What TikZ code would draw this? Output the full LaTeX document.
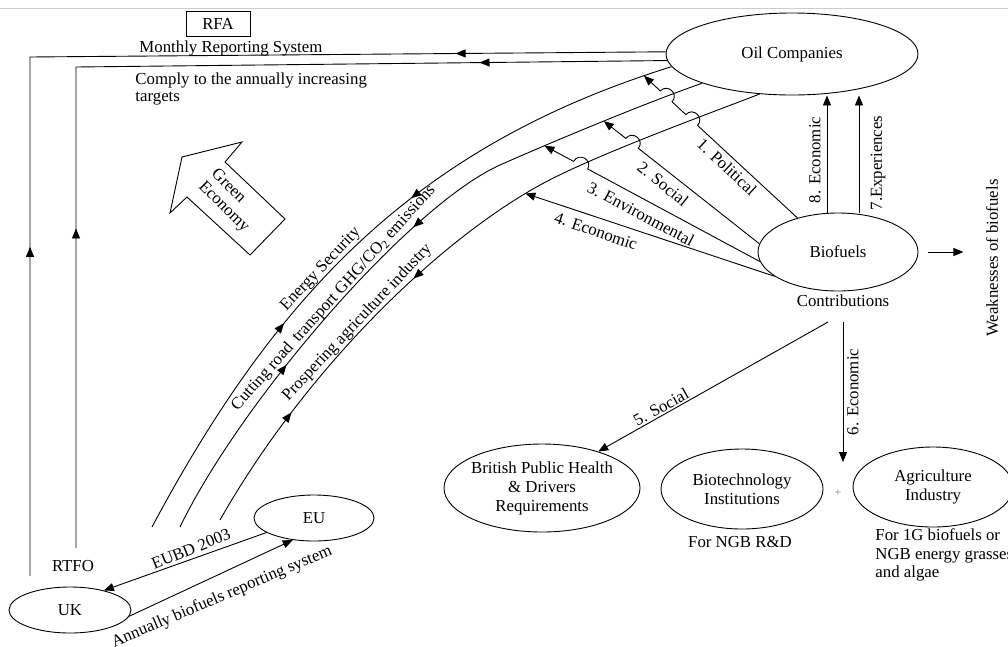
\documentclass[tikz,border=0pt]{standalone}
\usepackage{fontspec}
\setmainfont{Liberation Serif}
\usetikzlibrary{arrows.meta,calc,intersections,decorations.markings,shapes.geometric}
\begin{document}
\begin{tikzpicture}[x=1pt,y=1pt,
  >={Triangle[length=10pt,width=8pt]},
  font=\fontsize{16.8}{19}\selectfont,
  line width=0.9pt,
  oval/.style={draw, ellipse, inner sep=0pt, align=center},
  lbl/.style={inner sep=0pt},
  bump/.style={bend right=90, looseness=1.7},
  twoway/.style 2 args={postaction={decorate},decoration={markings,
     mark=at position #1 with {\arrow{>}},
     mark=at position #2 with {\arrowreversed{>}}}},
]
\clip (0,0) rectangle (1008,-646);
\fill[white] (0,0) rectangle (1008,-646);
\draw[gray!40, line width=0.8pt] (0,-8) -- (1008,-8);

% ---------- main actors ----------
\node[oval, minimum width=252, minimum height=82] (oil) at (792,-54) {Oil Companies};
\node[oval, minimum width=160, minimum height=78] (bio) at (838,-252) {Biofuels};
\node[oval, minimum width=122, minimum height=46] (uk) at (70,-610) {UK};
\node[oval, minimum width=120, minimum height=46] (eu) at (314,-518) {EU};
\node[oval, minimum width=196, minimum height=88] (brit) at (542,-488) {};
\node[lbl, align=center] (britT) at (brit.center) {British Public Health\\\& Drivers\\Requirements};
\node[oval, minimum width=162, minimum height=80] (biot) at (742,-489) {Biotechnology\\Institutions};
\node[oval, minimum width=160, minimum height=80] (agri) at (933,-487) {Agriculture\\Industry};
\node[draw, minimum width=64, minimum height=25, inner sep=0pt] (rfa) at (218,-23.5) {RFA};

% ---------- free texts ----------
\node[lbl, anchor=base west] (mrs) at (139,-52) {Monthly Reporting System};
\node[lbl, anchor=north west, align=left, font=\fontsize{16.8}{17}\selectfont] (comply) at (135,-72.5)
  {Comply to the annually increasing\\targets};
\node[lbl] (rtfo) at (73,-566) {RTFO};
\node[lbl] (contrib) at (843,-301) {Contributions};
\node[lbl, rotate=90] (weak) at (992,-258) {Weaknesses of biofuels};
\node[lbl] (ngb) at (740,-541.5) {For NGB R\&D};
\node[lbl, anchor=north west, align=left, font=\fontsize{16.8}{18.5}\selectfont] (agritxt) at (875,-528.5)
  {For 1G biofuels or\\NGB energy grasses\\and algae};
\node[lbl, text=gray, font=\fontsize{12}{12}\selectfont] (plus) at (838,-493) {+};

% ---------- reporting lines to the UK side ----------
\coordinate (v1b) at (30,-576);
\coordinate (v1t) at (30,-57);
\coordinate (v2b) at (76,-548);
\coordinate (v2t) at (76,-67);
\draw[twoway={0.285}{0.818}] (v1b) -- (v1t) -- (oil.179);
\draw[twoway={0.298}{0.825}] (v2b) -- (v2t) -- (oil.183);

% ---------- UK / EU ----------
\draw[->] (eu.197) -- (uk.30);
\draw[->] (uk.-6) -- (eu.226);
\node[lbl, rotate=22] (eubd) at (191,-549) {EUBD 2003};
\node[lbl, rotate=23] (annual) at (222,-597) {Annually biofuels reporting system};

% ---------- three benefit arcs ----------
\coordinate (aA) at (152,-527);
\coordinate (aB) at (180,-527);
\coordinate (aC) at (220,-520);
\draw[name path=arcA, postaction={decorate}, decoration={markings,
   mark=at position 0.34 with {\arrow{>}},
   mark=at position 0.43 with {\node[lbl, transform shape, anchor=base, yshift=4pt] (es) {Energy Security};},
   mark=at position 0.59 with {\arrowreversed{>}}}]
  (aA) .. controls (279,-289) and (420,-145) .. (oil.186);
\draw[name path=arcB, postaction={decorate}, decoration={markings,
   mark=at position 0.275 with {\arrow{>}},
   mark=at position 0.39 with {\node[lbl, transform shape, anchor=base, yshift=3pt] (cut) {Cutting road\, transport GHG/CO\textsubscript{2} emissions};},
   mark=at position 0.54 with {\arrowreversed{>}}}]
  (aB) .. controls (241,-401) and (409,-206) .. (500,-165)
       .. controls (545,-145) and (640,-105) .. (oil.198);
\draw[name path=arcC, postaction={decorate}, decoration={markings,
   mark=at position 0.183 with {\arrow{>}},
   mark=at position 0.34 with {\node[lbl, transform shape, anchor=base, yshift=4pt] (pros) {Prospering agriculture industry};},
   mark=at position 0.44 with {\arrowreversed{>}}}]
  (aC) .. controls (304,-372) and (435,-243) .. (540,-185)
       .. controls (593,-156) and (700,-117) .. (oil.231);

% ---------- Green Economy block arrow ----------
\draw (182,-157) -- (242,-142) -- (225,-162) -- (285,-219) -- (250,-255)
  -- (187,-197) -- (170,-213) -- cycle;
\node[lbl, rotate=-45, align=left, font=\fontsize{16.8}{18}\selectfont] (green) at (230,-201) {Green\\Economy};

% ---------- biofuels contributions to oil companies ----------
\coordinate (tPol) at (641,-73);
\coordinate (tSoc) at (605,-122);
\coordinate (tEnv) at (545,-146);
\coordinate (tEco) at (530,-195);
\path[name path=lPol] (bio.140) -- ($(bio.140)!1.3!(tPol)$);
\path[name path=lSoc] (bio.174) -- ($(bio.174)!1.3!(tSoc)$);
\path[name path=lEnv] (bio.187) -- ($(bio.187)!1.3!(tEnv)$);
\path[name path=lEco] (bio.201) -- ($(bio.201)!1.3!(tEco)$);
\path[name intersections={of=lPol and arcA, by=xPolA}];
\path[name intersections={of=lPol and arcB, by=xPolB}];
\path[name intersections={of=lPol and arcC, by=xPolC}];
\path[name intersections={of=lSoc and arcB, by=xSocB}];
\path[name intersections={of=lSoc and arcC, by=xSocC}];
\path[name intersections={of=lEnv and arcB, by=xEnvB}];
\path[name intersections={of=lEnv and arcC, by=xEnvC}];
\path[name intersections={of=lEco and arcC, by=xEcoC}];

\draw[->] (bio.140) -- ($(xPolC)!8pt!(bio.140)$) to[bump] ($(xPolC)!8pt!(xPolA)$)
  -- ($(xPolB)!8pt!(bio.140)$) to[bump] ($(xPolB)!8pt!(xPolA)$) -- (xPolA);
\draw[->] (bio.174) -- ($(xSocC)!8pt!(bio.174)$) to[bump] ($(xSocC)!8pt!(xSocB)$) -- (xSocB);
\draw[->] (bio.187) -- ($(xEnvC)!8pt!(bio.187)$) to[bump] ($(xEnvC)!8pt!(xEnvB)$) -- (xEnvB);
\draw[->] (bio.201) -- (xEcoC);

\node[lbl, rotate=-43] (lpol) at (727,-167) {1. Political};
\node[lbl, rotate=-39] (lsoc) at (663,-184) {2. Social};
\node[lbl, rotate=-28] (lenv) at (641,-214) {3. Environmental};
\node[lbl, rotate=-19] (leco) at (596,-231) {4. Economic};

% ---------- feedback from biofuels to oil companies ----------
\coordinate (x8) at (827,0);
\coordinate (x7) at (859,0);
\draw[->] (bio.north -| x8) -- (oil.south -| x8);
\draw[->] (bio.north -| x7) -- (oil.south -| x7);
\node[lbl, rotate=90] (l8) at (815,-160) {8. Economic};
\node[lbl, rotate=90] (l7) at (878,-163) {7.Experiences};

% ---------- weaknesses ----------
\draw[->] ([xshift=10pt]bio.east) -- ++(35,0);

% ---------- contributions to society ----------
\coordinate (s5) at (828,-322);
\coordinate (s6) at (843,-322);
\coordinate (e6) at (843,-462);
\draw[->] (s5) -- (brit.33);
\draw[->] (s6) -- (e6);
\node[lbl, rotate=29] (l5) at (661,-407) {5. Social};
\node[lbl, rotate=90] (l6) at (853,-392) {6. Economic};
\end{tikzpicture}
\end{document}
